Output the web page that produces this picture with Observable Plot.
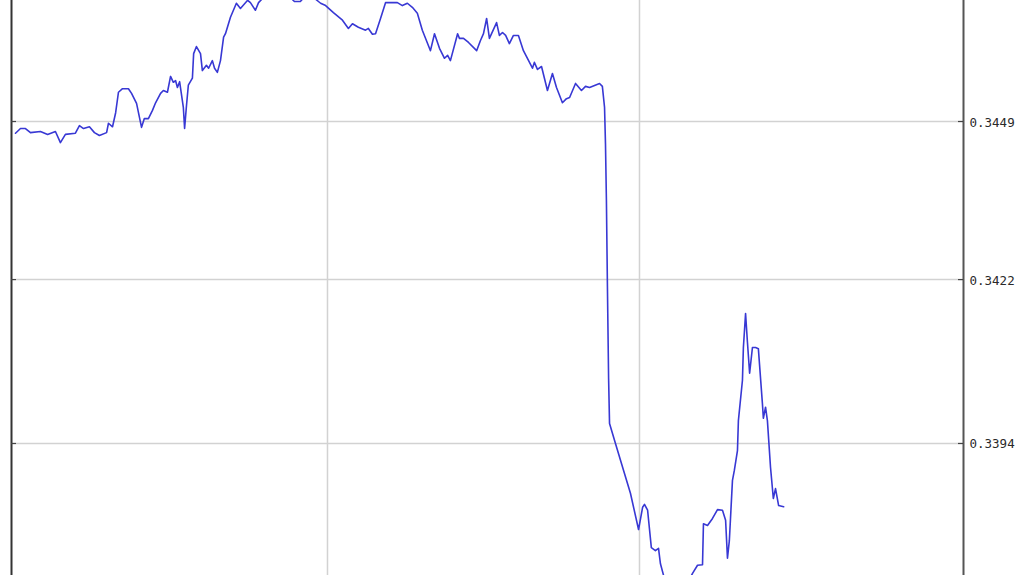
<!DOCTYPE html>
<html>
<head>
<meta charset="utf-8">
<script src="https://cdn.jsdelivr.net/npm/d3@7"></script>
<script src="https://cdn.jsdelivr.net/npm/@observablehq/plot@0.6"></script>
<style>
  html, body { margin: 0; padding: 0; background: #ffffff; }
  #chart { width: 1024px; height: 575px; overflow: hidden; }
  svg { display: block; }
</style>
</head>
<body>
<div id="chart"></div>
<script>
// time index (arbitrary units; vertical grid every 100)
const times = [
  0, 1.6, 3.2, 4.8, 8.0, 10.3, 12.8, 14.4, 16.0, 19.2,
  20.5, 21.8, 23.7, 25.3, 26.9, 29.2, 29.8, 31.1, 32.1, 33.0,
  34.3, 36.2, 37.2, 38.8, 40.4, 41.3, 42.6, 43.9, 44.9, 46.5,
  47.4, 48.7, 49.7, 50.6, 51.3, 51.9, 52.6, 53.8, 54.2, 54.8,
  55.4, 56.7, 57.1, 58.0, 59.3, 59.9, 61.2, 61.9, 63.1, 63.8,
  64.7, 65.7, 66.7, 67.3, 68.9, 70.8, 72.1, 74.4, 75.3, 76.9,
  77.9, 79.5, 81.7, 84.9, 87.5, 89.4, 91.3, 93.3, 95.5, 97.1,
  97.8, 99.4, 101.9, 104.8, 106.7, 108.0, 109.9, 112.2, 113.1, 114.4,
  115.4, 117.0, 118.6, 122.4, 124.0, 125.6, 127.2, 128.8, 130.4, 133.0,
  134.3, 135.9, 137.5, 138.5, 139.4, 141.7, 142.3, 143.6, 145.2, 147.8,
  149.0, 150.0, 151.0, 151.9, 154.2, 155.1, 156.1, 157.1, 158.3, 159.6,
  161.2, 162.8, 165.7, 166.3, 167.3, 168.6, 170.5, 172.1, 173.4, 175.3,
  176.6, 177.6, 179.5, 181.4, 182.7, 184.0, 187.2, 188.1, 188.8, 189.1,
  189.4, 189.7, 190.1, 190.4, 192.3, 194.9, 197.1, 199.7, 201.0, 201.6,
  202.6, 203.8, 205.1, 206.1, 206.7, 207.7, 209.3, 211.9, 214.4, 217.0,
  218.6, 220.2, 220.5, 221.8, 223.4, 225.0, 226.6, 227.6, 228.2, 228.8,
  229.8, 230.4, 231.4, 231.7, 233.0, 233.3, 234.0, 234.6, 235.3, 236.2,
  237.2, 238.1, 239.4, 239.7, 240.4, 241.0, 242.0, 242.9, 243.6, 244.6,
  246.2
];
const rates = [
  0.34470, 0.34478, 0.34478, 0.34471, 0.34473, 0.34468, 0.34473, 0.34454, 0.34468, 0.34470,
  0.34483, 0.34478, 0.34481, 0.34471, 0.34466, 0.34471, 0.34487, 0.34481, 0.34505, 0.34540,
  0.34546, 0.34546, 0.34538, 0.34521, 0.34480, 0.34495, 0.34495, 0.34509, 0.34522, 0.34538,
  0.34543, 0.34540, 0.34567, 0.34557, 0.34560, 0.34548, 0.34558, 0.34514, 0.34478, 0.34517,
  0.34552, 0.34564, 0.34606, 0.34618, 0.34606, 0.34577, 0.34586, 0.34581, 0.34594, 0.34581,
  0.34574, 0.34594, 0.34634, 0.34640, 0.34668, 0.34692, 0.34683, 0.34697, 0.34693, 0.34680,
  0.34693, 0.34702, 0.34710, 0.34717, 0.34705, 0.34695, 0.34695, 0.34707, 0.34702, 0.34695,
  0.34692, 0.34688, 0.34676, 0.34663, 0.34649, 0.34657, 0.34651, 0.34646, 0.34649, 0.34639,
  0.34640, 0.34666, 0.34693, 0.34693, 0.34688, 0.34692, 0.34685, 0.34675, 0.34646, 0.34611,
  0.34640, 0.34615, 0.34598, 0.34603, 0.34594, 0.34640, 0.34632, 0.34632, 0.34625, 0.34611,
  0.34628, 0.34640, 0.34666, 0.34632, 0.34659, 0.34637, 0.34642, 0.34637, 0.34623, 0.34637,
  0.34637, 0.34611, 0.34581, 0.34591, 0.34579, 0.34584, 0.34543, 0.34572, 0.34548, 0.34522,
  0.34529, 0.34531, 0.34555, 0.34543, 0.34550, 0.34548, 0.34555, 0.34550, 0.34514, 0.34452,
  0.34355, 0.34218, 0.34051, 0.33974, 0.33940, 0.33894, 0.33855, 0.33793, 0.33831, 0.33836,
  0.33826, 0.33762, 0.33757, 0.33761, 0.33735, 0.33715, 0.33689, 0.33672, 0.33692, 0.33718,
  0.33732, 0.33733, 0.33803, 0.33800, 0.33812, 0.33827, 0.33826, 0.33809, 0.33744, 0.33774,
  0.33877, 0.33894, 0.33928, 0.33979, 0.34048, 0.34104, 0.34162, 0.34113, 0.34060, 0.34104,
  0.34104, 0.34102, 0.34008, 0.33983, 0.34002, 0.33979, 0.33899, 0.33846, 0.33863, 0.33834,
  0.33832
];
const yTicks = [0.3449, 0.3422, 0.3394];
const yTickLabels = ["0.3449", "0.3422", "0.3394"];
const xGrid = [100, 200];
const xDomain = [-1.28, 303.85];
const yDomain = [0.337145, 0.346967];

const data = times.map((t, i) => ({t, v: rates[i]}));
const tickLen = 5 / 3.12; // tick length expressed in x units

const chart = Plot.plot({
  width: 1024,
  height: 575,
  marginLeft: 11,
  marginRight: 61,
  marginTop: 0,
  marginBottom: 0,
  style: {background: "#ffffff", overflow: "visible"},
  x: {domain: xDomain, axis: null},
  y: {domain: yDomain, axis: null},
  marks: [
    Plot.ruleX(xGrid, {stroke: "#d2d2d2", strokeWidth: 1.5}),
    Plot.ruleY(yTicks, {x1: xDomain[0], x2: xDomain[1], stroke: "#d2d2d2", strokeWidth: 1.5}),
    Plot.line(data, {x: "t", y: "v", stroke: "#3838d4", strokeWidth: 1.6, strokeLinejoin: "round", clip: true}),
    Plot.ruleX([xDomain[0]], {stroke: "#333333", strokeWidth: 2}),
    Plot.ruleX([xDomain[1]], {stroke: "#555555", strokeWidth: 2}),
    Plot.ruleY(yTicks, {x1: xDomain[0], x2: xDomain[0] + tickLen, stroke: "#444444", strokeWidth: 1.2}),
    Plot.ruleY(yTicks, {x1: xDomain[1] - tickLen, x2: xDomain[1], stroke: "#444444", strokeWidth: 1.2}),
    Plot.text(yTicks, {
      x: xDomain[1], y: d => d,
      text: (d, i) => yTickLabels[i],
      textAnchor: "start", dx: 6, dy: 1,
      fontFamily: "DejaVu Sans Mono", fontSize: 12.5, fill: "#2a2a2a"
    })
  ]
});
document.getElementById("chart").appendChild(chart);
</script>
</body>
</html>
